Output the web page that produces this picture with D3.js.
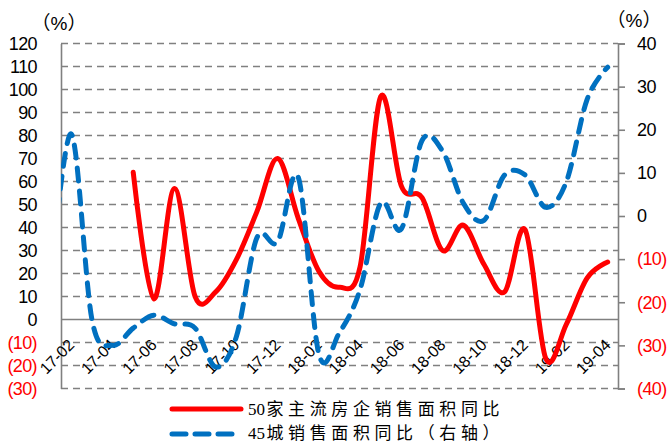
<!DOCTYPE html>
<html>
<head>
<meta charset="utf-8">
<script src="https://cdn.jsdelivr.net/npm/d3@7"></script>
<style>
  html, body { margin: 0; padding: 0; background: #fff; }
  svg { display: block; }
</style>
</head>
<body>
<svg id="chart" width="668" height="441"></svg>
<script>
// Monthly categories (the first month sits just left of the plot and is clipped)
const months = [
  "17-01","17-02","17-03","17-04","17-05","17-06","17-07","17-08","17-09","17-10","17-11","17-12",
  "18-01","18-02","18-03","18-04","18-05","18-06","18-07","18-08","18-09","18-10","18-11","18-12",
  "19-01","19-02","19-03","19-04"
];
// 50家主流房企销售面积同比 (left axis, %)
const salesTop50 = [
  null, null, null, null, 64, 9, 57, 10, 12, 26, 47, 70,
  44, 21, 14, 23, 97, 58, 53, 30, 41, 24, 12, 39,
  -17, -2, 18, 25
];
// 45城销售面积同比 (right axis, %)
const sales45City = [
  -15, 19, -24, -30, -26, -23, -25, -26, -35, -28, -5, -6,
  9, -32, -27, -17, 3, -3, 17.5, 15, 3, -1, 9.5, 9.5,
  2, 8, 27, 34.5
];
const leftTicks = [120, 110, 100, 90, 80, 70, 60, 50, 40, 30, 20, 10, 0, -10, -20, -30];
const rightTicks = [40, 30, 20, 10, 0, -10, -20, -30, -40];
const legendNames = ["50家主流房企销售面积同比", "45城销售面积同比（右轴）"];

const svg = d3.select("#chart");
const plot = { left: 61, right: 618, top: 43.5, bottom: 388.5 };

const step = (plot.right - plot.left) / (months.length - 1);
const x = d3.scalePoint()
  .domain(months)
  .range([plot.left - step / 2, plot.right - step / 2]);
const yL = d3.scaleLinear().domain([-30, 120]).range([plot.bottom, plot.top]);
const yR = d3.scaleLinear().domain([-40, 40]).range([plot.bottom, plot.top]);

const fmt = v => v < 0 ? "(" + Math.abs(v) + ")" : String(v);
const tickColor = v => v < 0 ? "#ff0000" : "#000";

// Dashed horizontal gridlines on the left-axis ticks
svg.append("g")
  .selectAll("line")
  .data(leftTicks.filter(v => v !== 0))
  .join("line")
  .attr("x1", plot.left).attr("x2", plot.right)
  .attr("y1", d => yL(d)).attr("y2", d => yL(d))
  .attr("stroke", "#808080")
  .attr("stroke-width", 1.6)
  .attr("stroke-dasharray", "7,5");

// Solid zero line (category axis)
svg.append("line")
  .attr("x1", plot.left).attr("x2", plot.right)
  .attr("y1", yL(0)).attr("y2", yL(0))
  .attr("stroke", "#808080").attr("stroke-width", 1.6);

// Left axis
const leftAxis = svg.append("g")
  .attr("transform", `translate(${plot.left},0)`)
  .call(d3.axisLeft(yL).tickValues(leftTicks).tickSize(0).tickPadding(24).tickFormat(fmt));
leftAxis.select(".domain").attr("stroke", "#808080").attr("stroke-width", 1.6);
leftAxis.selectAll("text")
  .attr("font-family", "'Liberation Sans', Arial, sans-serif")
  .attr("font-size", 18)
  .attr("letter-spacing", "-0.6")
  .attr("fill", d => tickColor(d));

// Right axis
const rightAxis = svg.append("g")
  .attr("transform", `translate(${plot.right},0)`)
  .call(d3.axisRight(yR).tickValues(rightTicks).tickSize(7).tickPadding(12).tickFormat(fmt));
rightAxis.select(".domain").attr("stroke", "#808080").attr("stroke-width", 1.6);
rightAxis.selectAll("line").attr("stroke", "#808080").attr("stroke-width", 1.6);
rightAxis.selectAll("text")
  .attr("font-family", "'Liberation Sans', Arial, sans-serif")
  .attr("font-size", 18)
  .attr("letter-spacing", "-0.6")
  .attr("fill", d => tickColor(d));

// Unit labels
svg.append("text")
  .attr("x", 59).attr("y", 30)
  .attr("text-anchor", "middle")
  .attr("font-family", "'Liberation Sans', 'Noto Sans CJK SC', sans-serif")
  .attr("font-size", 19)
  .text("（%）");
svg.append("text")
  .attr("x", 634).attr("y", 27)
  .attr("text-anchor", "middle")
  .attr("font-family", "'Liberation Sans', 'Noto Sans CJK SC', sans-serif")
  .attr("font-size", 19)
  .text("（%）");

// Rotated category labels, every second month
svg.append("g")
  .selectAll("text")
  .data(months.filter((d, i) => i % 2 === 1))
  .join("text")
  .attr("transform", d => `translate(${x(d) + 4},346) rotate(-45)`)
  .attr("text-anchor", "end")
  .attr("font-family", "'Liberation Sans', Arial, sans-serif")
  .attr("font-size", 16)
  .attr("fill", "#000")
  .text(d => d);

// Series lines, clipped to the plot area
svg.append("clipPath").attr("id", "plotClip")
  .append("rect")
  .attr("x", plot.left).attr("y", plot.top)
  .attr("width", plot.right - plot.left).attr("height", plot.bottom - plot.top);

const lines = svg.append("g").attr("clip-path", "url(#plotClip)");

const redLine = d3.line()
  .defined(d => d[1] !== null)
  .x(d => x(d[0]))
  .y(d => yL(d[1]))
  .curve(d3.curveCatmullRom.alpha(0));
lines.append("path")
  .datum(months.map((m, i) => [m, salesTop50[i]]))
  .attr("d", redLine)
  .attr("fill", "none")
  .attr("stroke", "#ff0000")
  .attr("stroke-width", 5)
  .attr("stroke-linejoin", "round")
  .attr("stroke-linecap", "round");

const blueLine = d3.line()
  .x(d => x(d[0]))
  .y(d => yR(d[1]))
  .curve(d3.curveCatmullRom.alpha(0));
lines.append("path")
  .datum(months.map((m, i) => [m, sales45City[i]]))
  .attr("d", blueLine)
  .attr("fill", "none")
  .attr("stroke", "#0070c0")
  .attr("stroke-width", 5)
  .attr("stroke-dasharray", "13,10")
  .attr("stroke-linecap", "round");

// Legend
const legend = svg.append("g");
legend.append("line")
  .attr("x1", 172).attr("x2", 241).attr("y1", 409).attr("y2", 409)
  .attr("stroke", "#ff0000").attr("stroke-width", 5).attr("stroke-linecap", "round");
legend.append("line")
  .attr("x1", 172).attr("x2", 236).attr("y1", 434).attr("y2", 434)
  .attr("stroke", "#0070c0").attr("stroke-width", 5)
  .attr("stroke-dasharray", "14,9").attr("stroke-linecap", "round");
const legendText = legend.selectAll("text")
  .data(legendNames)
  .join("text")
  .attr("x", 248)
  .attr("y", (d, i) => 415 + i * 23.5)
  .attr("font-family", "'Liberation Serif', 'Noto Sans CJK SC', serif")
  .attr("font-size", 17)
  .attr("fill", "#000");
// Leading digits set tight, Chinese characters spaced out
legendText.append("tspan")
  .attr("letter-spacing", "0")
  .text(d => d.match(/^\d+/)[0]);
legendText.append("tspan")
  .attr("dx", 1.5)
  .attr("letter-spacing", "4.6")
  .text(d => d.replace(/^\d+/, ""));
</script>
</body>
</html>
